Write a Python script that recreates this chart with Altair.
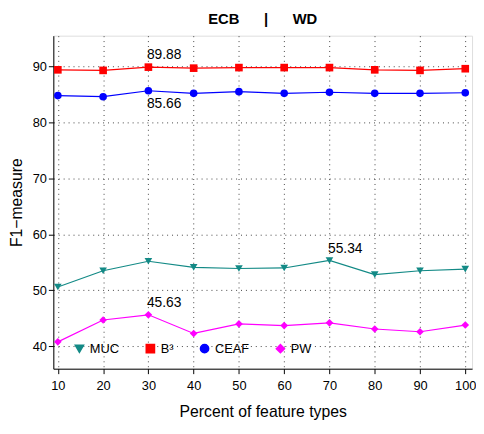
import altair as alt
import pandas as pd

pct = [10, 20, 30, 40, 50, 60, 70, 80, 90, 100]
muc = [50.6, 53.5, 55.2, 54.1, 53.9, 54.0, 55.34, 52.8, 53.5, 53.8]
b3 = [89.4, 89.3, 89.88, 89.7, 89.8, 89.8, 89.8, 89.4, 89.3, 89.6]
ceaf = [84.8, 84.6, 85.66, 85.2, 85.5, 85.2, 85.4, 85.2, 85.2, 85.3]
pw = [40.8, 44.7, 45.63, 42.3, 44.0, 43.7, 44.2, 43.1, 42.6, 43.8]

series = ["MUC", "B³", "CEAF", "PW"]
colors = ["#138a86", "#ff0000", "#0000ff", "#ff00ff"]
shapes = ["triangle-down", "square", "circle", "diamond"]

rows = []
for name, vals in zip(series, [muc, b3, ceaf, pw]):
    for p, v in zip(pct, vals):
        rows.append({"pct": p, "f1": v, "series": name})
df = pd.DataFrame(rows)

notes = pd.DataFrame({
    "pct": [30, 30, 70, 30],
    "f1": [89.88, 85.66, 55.34, 45.63],
    "label": ["89.88", "85.66", "55.34", "45.63"],
    "dy": [-12, 14, -12, -12],
})

x = alt.X("pct:Q", title="Percent of feature types",
          scale=alt.Scale(domain=[9, 101.5], nice=False),
          axis=alt.Axis(values=pct, grid=True, gridDash=[1, 4], gridColor="#444",
                        tickColor="black", labelFontSize=13, titleFontSize=16,
                        titleFontWeight="normal", labelColor="black", titleColor="black",
                        domainColor="black", titlePadding=12, labelPadding=6))
y = alt.Y("f1:Q", title="F1\u2212measure",
          scale=alt.Scale(domain=[36, 95.5], nice=False),
          axis=alt.Axis(values=[40, 50, 60, 70, 80, 90], grid=True, gridDash=[1, 4],
                        gridColor="#444", tickColor="black", labelFontSize=13,
                        titleFontSize=16, titleFontWeight="normal", labelColor="black",
                        titleColor="black", domainColor="black", titlePadding=8))
color = alt.Color("series:N", scale=alt.Scale(domain=series, range=colors),
                  legend=alt.Legend(title=None, orient="none", direction="horizontal",
                                    legendX=20, legendY=311, labelFontSize=13,
                                    symbolSize=70, columnPadding=24, labelColor="black"))
shape = alt.Shape("series:N", scale=alt.Scale(domain=series, range=shapes))

lines = alt.Chart(df).mark_line(strokeWidth=1.2).encode(x=x, y=y, color=color, detail="series:N")
points = alt.Chart(df).mark_point(filled=True, size=60, opacity=1).encode(
    x=x, y=y, color=color, shape=shape)

texts = []
for dy in [-12, 14]:
    texts.append(alt.Chart(notes[notes.dy == dy]).mark_text(
        fontSize=14, dy=dy, dx=16, color="black").encode(x="pct:Q", y="f1:Q", text="label:N"))

chart = alt.layer(lines, points, *texts).properties(
    width=425, height=338,
    title=alt.Title("ECB\u00a0\u00a0\u00a0\u00a0\u00a0\u00a0|\u00a0\u00a0\u00a0\u00a0\u00a0\u00a0WD",
                    fontSize=15, fontWeight="bold", color="black", offset=9),
    padding={"left": 0, "top": 1, "right": 0, "bottom": 0},
).configure_view(stroke="black", strokeWidth=1).configure(font="Liberation Sans")

chart.save("out.html", embed_options={"renderer": "svg", "actions": False})
